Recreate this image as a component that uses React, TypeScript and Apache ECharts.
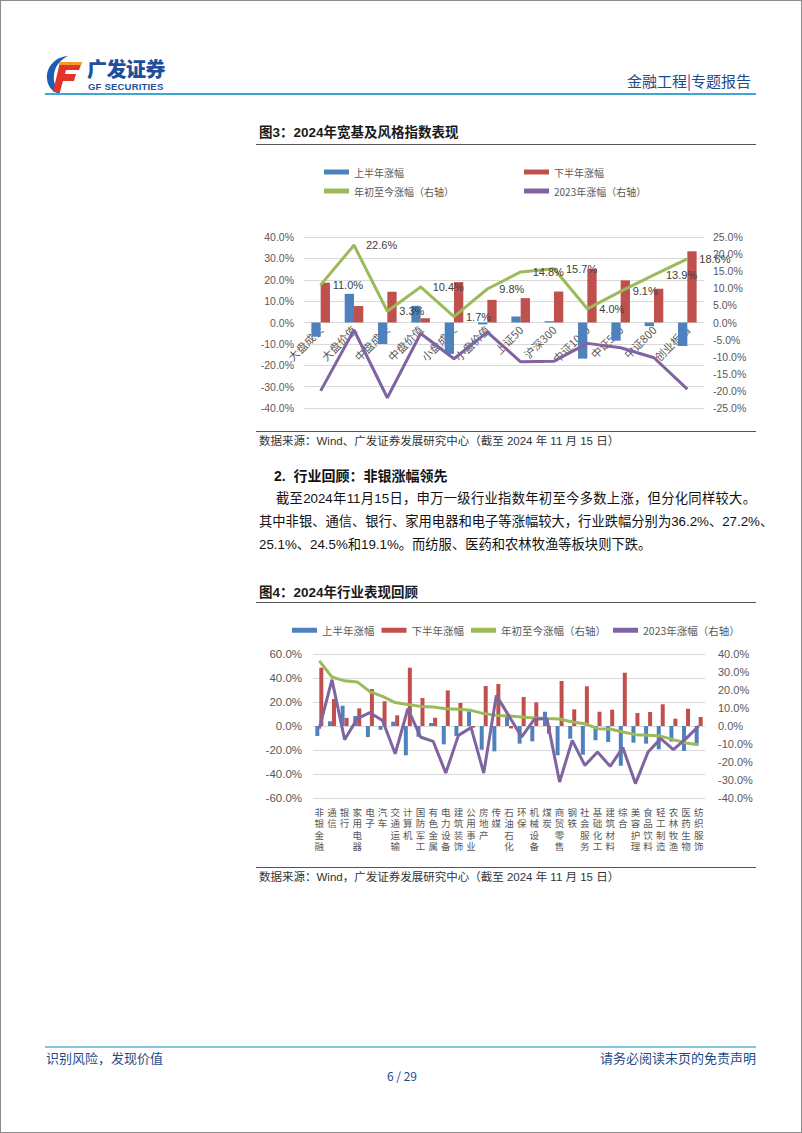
import React, { useEffect, useRef } from 'react';
import * as echarts from 'echarts';

// ---------- Figure 3 data ----------
const idxCats = ['大盘成长', '大盘价值', '中盘成长', '中盘价值', '小盘成长', '小盘价值', '上证50', '沪深300', '中证1000', '中证500', '中证800', '创业板指'];
const idxH1 = [-6.7, 13.4, -10.0, 7.8, -14.7, -0.9, 2.8, 0.6, -16.9, -8.5, -1.7, -11.0];
const idxH2 = [18.6, 7.7, 14.4, 2.0, 18.9, 10.6, 11.4, 14.5, 25.0, 19.7, 15.8, 33.3];
const idxYtd = [11.0, 22.6, 3.3, 10.4, 1.7, 9.8, 14.8, 15.7, 4.0, 9.1, 13.9, 18.6];
const idx2023 = [-20.0, -2.2, -22.0, -3.2, -10.6, -2.8, -11.5, -11.3, -6.1, -7.4, -10.3, -19.5];

// ---------- Figure 4 data ----------
const indCats = ['非银金融', '通信', '银行', '家用电器', '电子', '汽车', '交通运输', '计算机', '国防军工', '有色金属', '电力设备', '建筑装饰', '公用事业', '房地产', '传媒', '石油石化', '环保', '机械设备', '煤炭', '商贸零售', '钢铁', '社会服务', '基础化工', '建筑材料', '综合', '美容护理', '食品饮料', '轻工制造', '农林牧渔', '医药生物', '纺织服饰'];
const indH1 = [-8.3, 3.9, 16.9, 8.3, -9.2, -3.1, 3.6, -24.4, -9.0, 2.5, -15.3, -8.3, 12.2, -19.7, -21.1, 8.0, -14.7, -12.8, 11.9, -24.4, -10.6, -23.9, -11.9, -13.3, -33.1, -13.9, -14.7, -19.4, -13.0, -20.8, -14.7];
const indH2 = [48.6, 22.5, 6.7, 14.7, 30.8, 20.6, 8.9, 48.6, 23.3, 6.9, 29.7, 19.2, -1.4, 33.3, 35.0, -2.0, 24.2, 19.7, -6.4, 37.5, 13.9, 33.1, 11.9, 13.6, 44.4, 10.8, 11.7, 18.1, 6.1, 14.4, 7.5];
const indYtd = [36.2, 27.2, 25.1, 24.5, 19.1, 16.5, 13.0, 11.9, 10.9, 10.6, 9.6, 9.3, 8.7, 6.9, 5.9, 5.5, 5.0, 4.4, 4.1, 3.9, 2.2, 1.3, -1.5, -1.7, -3.3, -4.8, -5.2, -5.6, -7.6, -9.4, -10.4];
const ind2023 = [-1.5, 25.7, -7.6, 4.1, 7.4, 3.1, -15.4, 9.6, -6.1, -8.5, -26.1, -5.2, -0.9, -26.1, 17.0, 5.5, -6.1, 3.7, 4.1, -31.1, -8.0, -21.9, -14.4, -22.4, -12.0, -32.0, -14.4, -7.0, -13.1, -7.0, 0.0];

const seriesNames = ['上半年涨幅', '下半年涨幅', '年初至今涨幅（右轴）', '2023年涨幅（右轴）'];
const COLORS = ['#4F81BD', '#C0504D', '#9BBB59', '#8064A2'];

const NUM_FONT = '"Liberation Sans", Arial, "Noto Sans CJK SC", sans-serif';
const CJK_FONT = '"Noto Sans CJK SC", "Liberation Sans", sans-serif';
const pct = (v: number) => v.toFixed(1) + '%';

function Chart({ option, style }: { option: any; style: React.CSSProperties }) {
  const ref = useRef<HTMLDivElement>(null);
  useEffect(() => {
    const c = echarts.init(ref.current!, null, { renderer: 'svg' });
    c.setOption(option);
    return () => c.dispose();
  }, []);
  return <div ref={ref} style={style} />;
}

const legendBase = {
  itemWidth: 25,
  itemHeight: 5,
  icon: 'rect',
  textStyle: { color: '#595959', fontSize: 10, fontFamily: CJK_FONT },
};

const option1 = {
  animation: false,
  color: COLORS,
  legend: [
    { ...legendBase, data: [seriesNames[0]], left: 63, top: 11 },
    { ...legendBase, data: [seriesNames[1]], left: 263, top: 11 },
    { ...legendBase, data: [seriesNames[2]], left: 63, top: 30 },
    { ...legendBase, data: [seriesNames[3]], left: 263, top: 30 },
  ],
  grid: { left: 48, right: 52, top: 86, bottom: 18 },
  xAxis: {
    type: 'category',
    data: idxCats,
    offset: -85.5,
    axisLine: { show: false, onZero: false },
    axisTick: { show: false },
    axisLabel: { rotate: 45, interval: 0, fontSize: 11, color: '#595959', margin: 5, fontFamily: CJK_FONT },
    z: 1,
  },
  yAxis: [
    {
      type: 'value', min: -40, max: 40, interval: 10,
      axisLabel: { formatter: pct, fontSize: 10.5, color: '#595959', margin: 10, fontFamily: NUM_FONT },
      splitLine: { lineStyle: { color: '#d9d9d9' } },
      axisLine: { show: false }, axisTick: { show: false },
    },
    {
      type: 'value', min: -25, max: 25, interval: 5,
      axisLabel: { formatter: pct, fontSize: 10.5, color: '#595959', margin: 9, fontFamily: NUM_FONT },
      splitLine: { show: false },
      axisLine: { show: false }, axisTick: { show: false },
    },
  ],
  series: [
    { name: seriesNames[0], type: 'bar', data: idxH1, barWidth: 9.3, barGap: '0%', itemStyle: { color: COLORS[0] } },
    { name: seriesNames[1], type: 'bar', data: idxH2, barWidth: 9.3, barGap: '0%', itemStyle: { color: COLORS[1] } },
    {
      name: seriesNames[2], type: 'line', yAxisIndex: 1, data: idxYtd, showSymbol: true, symbol: 'circle', symbolSize: 2,
      lineStyle: { width: 3, color: COLORS[2] }, itemStyle: { color: COLORS[2] },
      label: { show: true, position: 'right', distance: 11, formatter: (p: any) => pct(p.value), fontSize: 11, color: '#404040', fontFamily: NUM_FONT },
      z: 5,
    },
    {
      name: seriesNames[3], type: 'line', yAxisIndex: 1, data: idx2023, showSymbol: false, symbol: 'none',
      lineStyle: { width: 3, color: COLORS[3] }, itemStyle: { color: COLORS[3] }, z: 4,
    },
  ],
};

const option2 = {
  animation: false,
  color: COLORS,
  legend: { ...legendBase, data: seriesNames, left: 31, top: 9, itemGap: 7, textStyle: { ...legendBase.textStyle, fontSize: 10.5 } },
  grid: { left: 57, right: 51, top: 43, bottom: 63 },
  xAxis: {
    type: 'category',
    data: indCats,
    axisLine: { show: false, onZero: false },
    axisTick: { show: false },
    axisLabel: {
      interval: 0, fontSize: 9.5, lineHeight: 11.5, color: '#595959', margin: 8, fontFamily: CJK_FONT,
      formatter: (s: string) => s.split('').join('\n'),
    },
  },
  yAxis: [
    {
      type: 'value', min: -60, max: 60, interval: 20,
      axisLabel: { formatter: pct, fontSize: 11.5, color: '#595959', margin: 11, fontFamily: NUM_FONT },
      splitLine: { lineStyle: { color: '#d9d9d9' } },
      axisLine: { show: false }, axisTick: { show: false },
    },
    {
      type: 'value', min: -40, max: 40, interval: 10,
      axisLabel: { formatter: pct, fontSize: 11, color: '#595959', margin: 13, fontFamily: NUM_FONT },
      splitLine: { show: false },
      axisLine: { show: false }, axisTick: { show: false },
    },
  ],
  series: [
    { name: seriesNames[0], type: 'bar', data: indH1, barWidth: 4, barGap: '0%', itemStyle: { color: COLORS[0] } },
    { name: seriesNames[1], type: 'bar', data: indH2, barWidth: 4, barGap: '0%', itemStyle: { color: COLORS[1] } },
    {
      name: seriesNames[2], type: 'line', yAxisIndex: 1, data: indYtd, showSymbol: false, symbol: 'none',
      lineStyle: { width: 3, color: COLORS[2] }, itemStyle: { color: COLORS[2] }, z: 4,
    },
    {
      name: seriesNames[3], type: 'line', yAxisIndex: 1, data: ind2023, showSymbol: false, symbol: 'none',
      lineStyle: { width: 3, color: COLORS[3] }, itemStyle: { color: COLORS[3] }, z: 5,
    },
  ],
};

const abs = (left: number, top: number, extra: React.CSSProperties = {}): React.CSSProperties => ({
  position: 'absolute', left, top, whiteSpace: 'nowrap', ...extra,
});

export default function App() {
  const bodyText: React.CSSProperties = { fontFamily: NUM_FONT, fontSize: 13.3, color: '#111', lineHeight: '20px' };
  const srcText: React.CSSProperties = { fontFamily: NUM_FONT, fontSize: 11.5, color: '#333', lineHeight: '16px' };
  const figTitle: React.CSSProperties = { fontFamily: NUM_FONT, fontSize: 13.5, fontWeight: 700, color: '#1a1a1a', lineHeight: '18px' };
  return (
    <div style={{ position: 'absolute', left: 0, top: 0, width: 802, height: 1133, background: '#fff', border: '1px solid #8c8c8c', boxSizing: 'border-box', overflow: 'hidden' }}>
      {/* header */}
      <svg style={abs(44, 54)} width={40} height={40} viewBox="0 0 40 40">
        <path d="M23 1 C10 2 1 12 2 24 C3 33 9 38 16 39 C11 34 8 27 9 20 C10 11 15 5 23 1 Z" fill="#1d5db3" />
        <polygon points="15,7 37,7 34,15 21,15 20,19 31,19 29,26 18,26 15,37 8,37" fill="#e3342a" />
        <polygon points="15,7 37,7 36,10 14,10" fill="#f59a2a" />
      </svg>
      <div style={abs(86, 56, { fontFamily: CJK_FONT, fontWeight: 900, fontSize: 20, color: '#1d4f9c', lineHeight: '24px', letterSpacing: -0.5 })}>广发证券</div>
      <div style={abs(87, 80, { fontFamily: NUM_FONT, fontWeight: 700, fontSize: 9.5, color: '#1d4f9c', lineHeight: '12px', letterSpacing: 0.2 })}>GF SECURITIES</div>
      <div style={abs(0, 70, { width: 750, textAlign: 'right', fontFamily: CJK_FONT, fontSize: 15, color: '#1f4a8a', lineHeight: '20px' })}>金融工程|专题报告</div>
      <div style={abs(44, 92, { width: 711, height: 2, background: '#3ea6d3' })} />

      {/* figure 3 */}
      <div style={abs(258, 123, figTitle)}>图3：2024年宽基及风格指数表现</div>
      <div style={abs(255, 143, { width: 500, height: 1, background: '#555' })} />
      <Chart option={option1} style={{ position: 'absolute', left: 255, top: 150, width: 500, height: 275 }} />
      <div style={abs(255, 430, { width: 500, height: 1, background: '#555' })} />
      <div style={abs(258, 432, srcText)}>数据来源：Wind、广发证券发展研究中心（截至 2024 年 11 月 15 日）</div>

      {/* section text */}
      <div style={abs(273, 465, { ...bodyText, fontWeight: 700, fontSize: 14 })}>2.&nbsp;&nbsp;行业回顾：非银涨幅领先</div>
      <div style={abs(275, 488, { ...bodyText, width: 480, textAlign: 'justify', textAlignLast: 'justify' as any })}>截至2024年11月15日，申万一级行业指数年初至今多数上涨，但分化同样较大。</div>
      <div style={abs(258, 511, { ...bodyText, width: 497, textAlign: 'justify', textAlignLast: 'justify' as any })}>其中非银、通信、银行、家用电器和电子等涨幅较大，行业跌幅分别为36.2%、27.2%、</div>
      <div style={abs(258, 534, bodyText)}>25.1%、24.5%和19.1%。而纺服、医药和农林牧渔等板块则下跌。</div>

      {/* figure 4 */}
      <div style={abs(258, 583, figTitle)}>图4：2024年行业表现回顾</div>
      <div style={abs(255, 601, { width: 500, height: 1, background: '#555' })} />
      <Chart option={option2} style={{ position: 'absolute', left: 255, top: 610, width: 500, height: 250 }} />
      <div style={abs(255, 866, { width: 500, height: 1, background: '#555' })} />
      <div style={abs(258, 868, srcText)}>数据来源：Wind，广发证券发展研究中心（截至 2024 年 11 月 15 日）</div>

      {/* footer */}
      <div style={abs(44, 1045, { width: 711, height: 2, background: '#84c5de' })} />
      <div style={abs(45, 1048, { fontFamily: CJK_FONT, fontSize: 13, color: '#1f4a8a', lineHeight: '18px' })}>识别风险，发现价值</div>
      <div style={abs(0, 1048, { width: 755, textAlign: 'right', fontFamily: CJK_FONT, fontSize: 13, color: '#1f4a8a', lineHeight: '18px' })}>请务必阅读末页的免责声明</div>
      <div style={abs(0, 1067, { width: 802, textAlign: 'center', fontFamily: CJK_FONT, fontSize: 12, color: '#1f4a8a', lineHeight: '16px' })}>6 / 29</div>
    </div>
  );
}
